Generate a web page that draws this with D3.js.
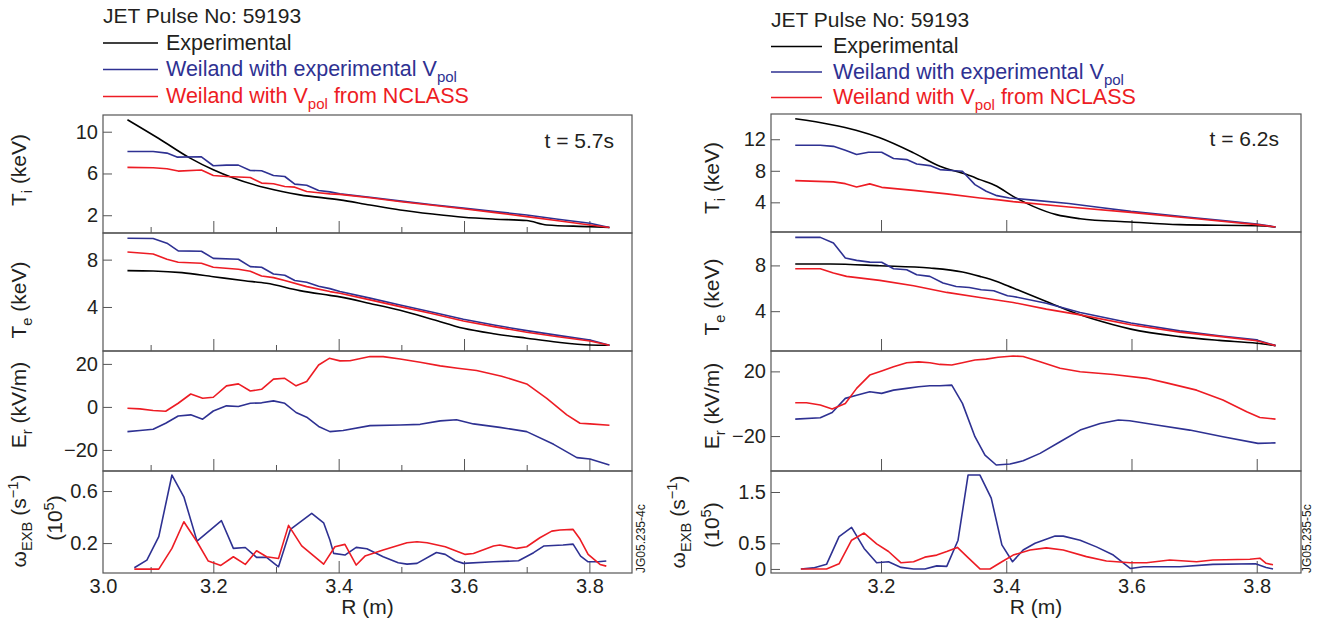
<!DOCTYPE html>
<html>
<head>
<meta charset="utf-8">
<script src="https://cdn.jsdelivr.net/npm/d3@7"></script>
<style>
  body { margin: 0; background: #fff; }
  svg text { font-family: "Liberation Sans", Arial, Helvetica, sans-serif; fill: #231f20; }
</style>
</head>
<body>
<svg width="1329" height="627"></svg>
<script>
        // ---- data: [R (m), value] ----
        // left figure, t = 5.7s
        var tiExpL = [[3.063,11.15],[3.113,9.35],[3.163,7.47],[3.2,6.35],[3.232,5.56],[3.285,4.6],[3.338,3.95],[3.402,3.47],[3.45,2.98],[3.498,2.51],[3.55,2.12],[3.599,1.81],[3.65,1.62],[3.70,1.49],[3.732,1.07],[3.801,0.91],[3.832,0.82]];
        var tiBlueL = [[3.063,8.11],[3.104,8.11],[3.126,7.95],[3.142,7.57],[3.181,7.6],[3.2,6.74],[3.221,6.8],[3.240,6.8],[3.259,6.29],[3.277,6.26],[3.296,5.81],[3.314,5.71],[3.330,4.98],[3.349,4.88],[3.368,4.37],[3.386,4.24],[3.402,4.05],[3.45,3.72],[3.5,3.35],[3.55,3.0],[3.599,2.68],[3.65,2.35],[3.70,2.03],[3.75,1.62],[3.801,1.24],[3.832,0.82]];
        var tiRedL = [[3.063,6.58],[3.104,6.55],[3.126,6.45],[3.144,6.23],[3.181,6.33],[3.2,5.81],[3.221,5.71],[3.259,5.62],[3.277,5.08],[3.296,5.01],[3.314,4.75],[3.330,4.69],[3.349,4.27],[3.368,4.15],[3.386,4.05],[3.402,4.0],[3.45,3.68],[3.5,3.3],[3.55,2.95],[3.599,2.62],[3.65,2.25],[3.70,1.87],[3.75,1.48],[3.801,1.07],[3.832,0.82]];
        var teExpL = [[3.063,7.07],[3.104,7.04],[3.15,6.9],[3.2,6.56],[3.25,6.22],[3.285,6.0],[3.338,5.38],[3.386,4.98],[3.402,4.85],[3.45,4.3],[3.498,3.72],[3.55,2.95],[3.599,2.2],[3.65,1.72],[3.70,1.36],[3.75,1.02],[3.801,0.79],[3.832,0.76]];
        var teBlueL = [[3.063,9.81],[3.104,9.78],[3.126,9.39],[3.144,8.74],[3.181,8.71],[3.2,8.11],[3.240,8.03],[3.259,7.41],[3.277,7.35],[3.296,6.79],[3.314,6.68],[3.330,6.23],[3.349,6.09],[3.368,5.75],[3.386,5.55],[3.402,5.30],[3.45,4.75],[3.498,4.17],[3.55,3.55],[3.599,2.96],[3.65,2.45],[3.70,2.0],[3.75,1.6],[3.801,1.21],[3.832,0.76]];
        var teRedL = [[3.063,8.65],[3.104,8.48],[3.126,8.03],[3.144,7.78],[3.181,7.7],[3.2,7.36],[3.240,7.19],[3.259,7.02],[3.277,6.62],[3.296,6.48],[3.314,6.23],[3.349,5.72],[3.386,5.3],[3.402,5.16],[3.45,4.6],[3.498,4.03],[3.55,3.42],[3.599,2.82],[3.65,2.32],[3.70,1.86],[3.75,1.48],[3.801,1.13],[3.832,0.76]];
        var erRedL = [[3.063,-0.6],[3.083,-0.9],[3.104,-1.7],[3.124,-2.0],[3.144,1.7],[3.164,6.0],[3.183,4.0],[3.2,4.5],[3.221,9.8],[3.240,10.7],[3.259,7.4],[3.277,8.2],[3.296,12.9],[3.314,13.3],[3.332,9.8],[3.349,11.8],[3.368,19.5],[3.385,22.6],[3.402,21.4],[3.418,21.5],[3.45,23.4],[3.471,23.4],[3.498,22.3],[3.53,20.8],[3.562,19.1],[3.59,18.0],[3.62,16.9],[3.66,14.3],[3.70,10.7],[3.732,4.0],[3.764,-3.7],[3.785,-7.6],[3.801,-7.9],[3.832,-8.5]];
        var erBlueL = [[3.063,-11.5],[3.083,-11.0],[3.104,-10.4],[3.124,-7.6],[3.144,-4.2],[3.164,-3.7],[3.183,-5.7],[3.2,-1.9],[3.221,0.5],[3.240,0.2],[3.259,1.7],[3.277,1.9],[3.296,2.8],[3.314,1.7],[3.332,-2.6],[3.349,-4.8],[3.368,-9.1],[3.386,-11.5],[3.407,-11.0],[3.45,-8.7],[3.498,-8.4],[3.53,-8.1],[3.562,-6.5],[3.588,-6.0],[3.615,-7.9],[3.657,-9.5],[3.70,-11.5],[3.743,-17.4],[3.780,-23.6],[3.801,-24.2],[3.832,-27.0]];
        var wBlueL = [[3.074,0.010],[3.094,0.069],[3.113,0.249],[3.134,0.723],[3.153,0.556],[3.174,0.215],[3.213,0.372],[3.232,0.159],[3.251,0.166],[3.269,0.09],[3.285,0.09],[3.304,0.018],[3.323,0.305],[3.357,0.428],[3.376,0.356],[3.386,0.223],[3.392,0.121],[3.410,0.108],[3.428,0.167],[3.445,0.156],[3.471,0.095],[3.495,0.049],[3.509,0.038],[3.525,0.044],[3.556,0.128],[3.570,0.113],[3.586,0.064],[3.599,0.044],[3.647,0.056],[3.687,0.064],[3.711,0.126],[3.727,0.177],[3.758,0.185],[3.774,0.192],[3.786,0.10],[3.798,0.056],[3.814,0.056],[3.827,0.062]];
        var wRedL = [[3.074,0.0],[3.113,0.0],[3.134,0.159],[3.153,0.364],[3.174,0.21],[3.192,0.062],[3.212,0.028],[3.232,0.095],[3.251,0.036],[3.269,0.141],[3.285,0.095],[3.304,0.082],[3.320,0.336],[3.341,0.179],[3.376,0.038],[3.394,0.172],[3.410,0.19],[3.428,0.031],[3.442,0.10],[3.471,0.146],[3.509,0.203],[3.525,0.21],[3.541,0.203],[3.570,0.172],[3.602,0.113],[3.615,0.12],[3.647,0.177],[3.657,0.185],[3.684,0.159],[3.700,0.172],[3.721,0.241],[3.740,0.292],[3.753,0.30],[3.774,0.305],[3.785,0.231],[3.798,0.113],[3.817,0.036],[3.827,0.023]];

        // right figure, t = 6.2s
        var tiExpR = [[3.063,14.59],[3.119,13.87],[3.16,13.14],[3.198,12.18],[3.252,10.27],[3.294,8.57],[3.337,7.52],[3.358,6.88],[3.385,6.03],[3.411,4.76],[3.443,3.49],[3.480,2.44],[3.518,1.93],[3.599,1.51],[3.677,1.17],[3.800,1.04],[3.830,0.88]];
        var tiBlueR = [[3.063,11.24],[3.103,11.24],[3.124,11.1],[3.143,10.6],[3.161,10.06],[3.180,10.35],[3.201,10.35],[3.220,9.55],[3.241,9.42],[3.257,8.87],[3.278,8.66],[3.294,8.15],[3.313,8.03],[3.330,7.94],[3.350,6.25],[3.368,5.4],[3.385,4.85],[3.405,4.56],[3.443,4.28],[3.5,3.85],[3.55,3.35],[3.599,2.86],[3.65,2.45],[3.70,2.05],[3.75,1.65],[3.800,1.26],[3.830,0.88]];
        var tiRedR = [[3.063,6.75],[3.124,6.59],[3.143,6.37],[3.161,5.95],[3.182,6.34],[3.201,5.9],[3.252,5.52],[3.305,5.07],[3.358,4.56],[3.385,4.34],[3.411,4.09],[3.5,3.4],[3.599,2.73],[3.70,1.95],[3.800,1.17],[3.830,0.88]];
        var teExpR = [[3.063,8.12],[3.119,8.12],[3.198,7.97],[3.278,7.77],[3.330,7.42],[3.358,7.04],[3.385,6.6],[3.411,6.02],[3.464,4.85],[3.518,3.68],[3.571,2.81],[3.599,2.43],[3.677,1.78],[3.74,1.45],[3.800,1.2],[3.830,0.99]];
        var teBlueR = [[3.063,10.45],[3.103,10.45],[3.124,9.96],[3.143,8.65],[3.161,8.44],[3.182,8.29],[3.201,8.27],[3.220,7.71],[3.241,7.62],[3.257,7.19],[3.278,7.04],[3.299,6.46],[3.320,6.16],[3.341,6.07],[3.360,5.87],[3.380,5.79],[3.402,5.35],[3.411,5.29],[3.464,4.7],[3.518,3.88],[3.599,2.96],[3.677,2.28],[3.74,1.85],[3.800,1.49],[3.830,0.99]];
        var teRedR = [[3.063,7.71],[3.103,7.71],[3.124,7.33],[3.145,7.04],[3.198,6.69],[3.252,6.22],[3.305,5.64],[3.358,5.2],[3.411,4.76],[3.464,4.18],[3.518,3.68],[3.599,2.81],[3.677,2.17],[3.74,1.8],[3.800,1.41],[3.830,0.99]];
        var erRedR = [[3.063,0.6],[3.081,0.6],[3.103,-0.8],[3.122,-3.3],[3.143,0.2],[3.161,9.5],[3.182,17.7],[3.201,20.2],[3.220,22.8],[3.241,25.3],[3.260,25.9],[3.278,25.3],[3.294,24.3],[3.313,23.9],[3.330,25.3],[3.350,27.0],[3.368,27.6],[3.387,28.7],[3.411,29.5],[3.427,29.2],[3.454,25.9],[3.486,21.9],[3.518,19.8],[3.571,18.1],[3.624,15.7],[3.656,12.9],[3.704,8.4],[3.746,2.3],[3.784,-5.0],[3.805,-8.5],[3.830,-9.5]];
        var erBlueR = [[3.063,-9.5],[3.103,-8.7],[3.122,-5.4],[3.143,3.3],[3.161,5.3],[3.182,7.4],[3.201,6.4],[3.220,8.4],[3.241,9.5],[3.260,10.5],[3.278,11.1],[3.294,11.1],[3.313,11.5],[3.330,0.2],[3.350,-20.4],[3.366,-31.8],[3.384,-37.9],[3.406,-37.3],[3.427,-35.3],[3.454,-30.7],[3.486,-23.5],[3.518,-16.3],[3.550,-12.2],[3.579,-10.1],[3.597,-10.5],[3.640,-13.2],[3.693,-16.3],[3.746,-20.4],[3.802,-24.5],[3.830,-24.2]];
        var wBlueR = [[3.072,0.0],[3.092,0.02],[3.113,0.09],[3.133,0.63],[3.153,0.81],[3.173,0.40],[3.193,0.12],[3.212,0.14],[3.232,0.03],[3.252,0.0],[3.270,0.0],[3.289,0.06],[3.305,0.05],[3.323,0.56],[3.339,1.83],[3.358,1.83],[3.376,1.38],[3.393,0.47],[3.410,0.14],[3.427,0.37],[3.446,0.5],[3.478,0.64],[3.491,0.64],[3.518,0.56],[3.544,0.43],[3.571,0.27],[3.598,0.01],[3.619,0.044],[3.677,0.044],[3.730,0.09],[3.798,0.1],[3.815,0.03],[3.826,0.0]];
        var wRedR = [[3.072,0.0],[3.113,0.0],[3.133,0.1],[3.153,0.56],[3.173,0.70],[3.193,0.49],[3.212,0.34],[3.232,0.12],[3.252,0.14],[3.270,0.23],[3.289,0.27],[3.305,0.34],[3.322,0.42],[3.339,0.22],[3.358,0.0],[3.374,0.0],[3.393,0.14],[3.411,0.27],[3.438,0.37],[3.464,0.41],[3.491,0.37],[3.528,0.24],[3.560,0.155],[3.598,0.12],[3.624,0.12],[3.661,0.175],[3.704,0.14],[3.730,0.175],[3.789,0.19],[3.805,0.21],[3.815,0.11],[3.826,0.08]];

        // ticks
        var xMajor = [3.2, 3.4, 3.6, 3.8];
        var xMinorL = [3.1, 3.3, 3.5, 3.7];
        var yTicksL = [[2, 6, 10], [4, 8], [-20, 0, 20], [0.2, 0.6]];
        var yTicksR = [[4, 8, 12], [4, 8], [-20, 20], [0, 0.5, 1.5]];

        var legendNames = ["Experimental", "Weiland with experimental V", "Weiland with V"];

        var blue = "#2e3192", red = "#ed1c24", black = "#000000", ink = "#231f20", grey = "#555555";
        var FONT = '"Liberation Sans", Arial, Helvetica, sans-serif';

        var svg = d3.select("svg");

        // panel layout for each figure
        var left = {
            xDomain: [3.024, 3.868], xRange: [103, 632], minor: xMinorL, firstLabel: true,
            time: "t = 5.7s", timeX: 614, timeY: 148,
            code: "JG05.235-4c", codeX: 645,
            labelX: 26, label2X: 62,
            legendX: 103, legendTitleY: 23, legendRows: [43, 69.5, 96.5], legendTextX: 166, legendLineEnd: 158,
            rows: [
                {top: 115, bottom: 233, domain: [0.3, 11.6], ticks: yTicksL[0], series: [tiExpL, tiBlueL, tiRedL], labelY: 170, label: [["T"], ["i", "sub"], [" (keV)"]]},
                {top: 233, bottom: 351, domain: [0.28, 10.25], ticks: yTicksL[1], series: [teExpL, teBlueL, teRedL], labelY: 300, label: [["T"], ["e", "sub"], [" (keV)"]]},
                {top: 351, bottom: 471, domain: [-29.8, 26], ticks: yTicksL[2], series: [null, erBlueL, erRedL], labelY: 405, label: [["E"], ["r", "sub"], [" (kV/m)"]]},
                {top: 471, bottom: 573, domain: [-0.03, 0.754], ticks: yTicksL[3], series: [null, wBlueL, wRedL], labelY: 521, label2Y: 518}
            ]
        };
        var right = {
            xDomain: [3.0243, 3.8707], xRange: [771, 1301], minor: [], firstLabel: false,
            time: "t = 6.2s", timeX: 1279, timeY: 146,
            code: "JG05.235-5c", codeX: 1311,
            labelX: 719, label2X: 719, omegaX: 685,
            legendX: 771, legendTitleY: 26.5, legendRows: [46.5, 72, 97.5], legendTextX: 833, legendLineEnd: 822,
            rows: [
                {top: 114, bottom: 232, domain: [0.24, 15.2], ticks: yTicksR[0], series: [tiExpR, tiBlueR, tiRedR], labelY: 178, label: [["T"], ["i", "sub"], [" (keV)"]]},
                {top: 232, bottom: 351, domain: [0.52, 10.92], ticks: yTicksR[1], series: [teExpR, teBlueR, teRedR], labelY: 297, label: [["T"], ["e", "sub"], [" (keV)"]]},
                {top: 351, bottom: 471, domain: [-41.6, 32.6], ticks: yTicksR[2], series: [null, erBlueR, erRedR], labelY: 406, label: [["E"], ["r", "sub"], [" (kV/m)"]]},
                {top: 471, bottom: 573, domain: [-0.079, 1.909], ticks: yTicksR[3], series: [null, wBlueR, wRedR], labelY: 522, label2Y: 525}
            ]
        };

        // text with sub/superscripts, each part a tspan
        function richText(sel, parts, size) {
            var shift = 0;
            parts.forEach(function(p) {
                var target = p[1] === "sub" ? size * 0.28 : (p[1] === "sup" ? -size * 0.38 : 0);
                var t = sel.append("tspan")
                    .attr("dy", target - shift)
                    .attr("font-size", p[1] ? size * 0.7 : size)
                    .text(p[0]);
                shift = target;
            });
            return sel;
        }

        function vLabel(x, y, parts) {
            var t = svg.append("text")
                .attr("transform", "translate(" + x + "," + y + ") rotate(-90)")
                .attr("text-anchor", "middle")
                .attr("font-size", 21);
            richText(t, parts, 21);
        }

        function drawFigure(s) {
            var x = d3.scaleLinear().domain(s.xDomain).range(s.xRange);
            var w = s.xRange[1] - s.xRange[0];

            s.rows.forEach(function(row, k) {
                var y = d3.scaleLinear().domain(row.domain).range([row.bottom, row.top]);
                var g = svg.append("g");

                // frame
                g.append("rect")
                    .attr("x", s.xRange[0]).attr("y", row.top)
                    .attr("width", w).attr("height", row.bottom - row.top)
                    .attr("fill", "none").attr("stroke", grey).attr("stroke-width", 1.2);

                // y axis, ticks pointing inward
                var ya = g.append("g")
                    .attr("transform", "translate(" + s.xRange[0] + ",0)")
                    .style("color", grey)
                    .call(d3.axisLeft(y).tickValues(row.ticks).tickSize(-9).tickPadding(5).tickFormat(d3.format("")));
                ya.select(".domain").remove();
                ya.selectAll("text").attr("font-size", 20).attr("font-family", FONT);

                // x ticks at bottom of each panel, inward
                var xa = g.append("g")
                    .attr("transform", "translate(0," + row.bottom + ")")
                    .style("color", grey)
                    .call(d3.axisBottom(x).tickValues(xMajor).tickSize(-12).tickFormat(""));
                xa.select(".domain").remove();
                if (s.minor.length) {
                    var xm = g.append("g")
                        .attr("transform", "translate(0," + row.bottom + ")")
                        .style("color", grey)
                        .call(d3.axisBottom(x).tickValues(s.minor).tickSize(-6).tickFormat(""));
                    xm.select(".domain").remove();
                }

                // tick labels only on the lowest panel
                if (k === s.rows.length - 1) {
                    var lv = s.firstLabel ? [s.xDomain[0]].concat(xMajor) : xMajor;
                    var xl = g.append("g")
                        .attr("transform", "translate(0," + row.bottom + ")")
                        .call(d3.axisBottom(x).tickValues(lv).tickSize(0).tickPadding(6)
                            .tickFormat(function(d) { return d.toFixed(1); }));
                    xl.select(".domain").remove();
                    xl.selectAll("text").attr("font-size", 20).attr("font-family", FONT);
                }

                // curves
                var colors = [black, blue, red];
                row.series.forEach(function(data, i) {
                    if (!data) return;
                    var line = d3.line()
                        .x(function(d) { return x(d[0]); })
                        .y(function(d) { return y(d[1]); })
                        .curve(i === 0 ? d3.curveMonotoneX : d3.curveLinear);
                    g.append("path")
                        .datum(data)
                        .attr("d", line)
                        .attr("fill", "none")
                        .attr("stroke", colors[i])
                        .attr("stroke-width", 1.6)
                        .attr("stroke-linejoin", "round");
                });

                // axis titles
                if (row.label) {
                    vLabel(s.labelX, row.labelY, row.label);
                } else {
                    vLabel(s.omegaX || s.labelX, row.labelY, [["\u03c9"], ["EXB", "sub"], [" (s"], ["\u22121", "sup"], [")"]]);
                    vLabel(s.label2X, row.label2Y, [["(10"], ["5", "sup"], [")"]]);
                }
            });

            // R (m)
            svg.append("text")
                .attr("x", (s.xRange[0] + s.xRange[1]) / 2).attr("y", 614)
                .attr("text-anchor", "middle").attr("font-size", 21)
                .text("R (m)");

            // time stamp
            svg.append("text")
                .attr("x", s.timeX).attr("y", s.timeY)
                .attr("text-anchor", "end").attr("font-size", 21)
                .text(s.time);

            // figure code
            svg.append("text")
                .attr("transform", "translate(" + s.codeX + ",573) rotate(-90)")
                .attr("font-size", 12)
                .text(s.code);

            // legend
            svg.append("text")
                .attr("x", s.legendX).attr("y", s.legendTitleY)
                .attr("font-size", 21)
                .text("JET Pulse No: 59193");
            var lc = [black, blue, red];
            s.legendRows.forEach(function(ly, i) {
                svg.append("line")
                    .attr("x1", s.legendX).attr("x2", s.legendLineEnd)
                    .attr("y1", ly).attr("y2", ly)
                    .attr("stroke", lc[i]).attr("stroke-width", 1.6);
                var t = svg.append("text")
                    .attr("x", s.legendTextX).attr("y", ly + 6.5)
                    .attr("font-size", 21.5)
                    .style("fill", i === 0 ? ink : lc[i]);
                if (i === 0) richText(t, [[legendNames[0]]], 21.5);
                if (i === 1) richText(t, [[legendNames[1]], ["pol", "sub"]], 21.5);
                if (i === 2) richText(t, [[legendNames[2]], ["pol", "sub"], [" from NCLASS"]], 21.5);
            });
        }

        drawFigure(left);
        drawFigure(right);
</script>
</body>
</html>
